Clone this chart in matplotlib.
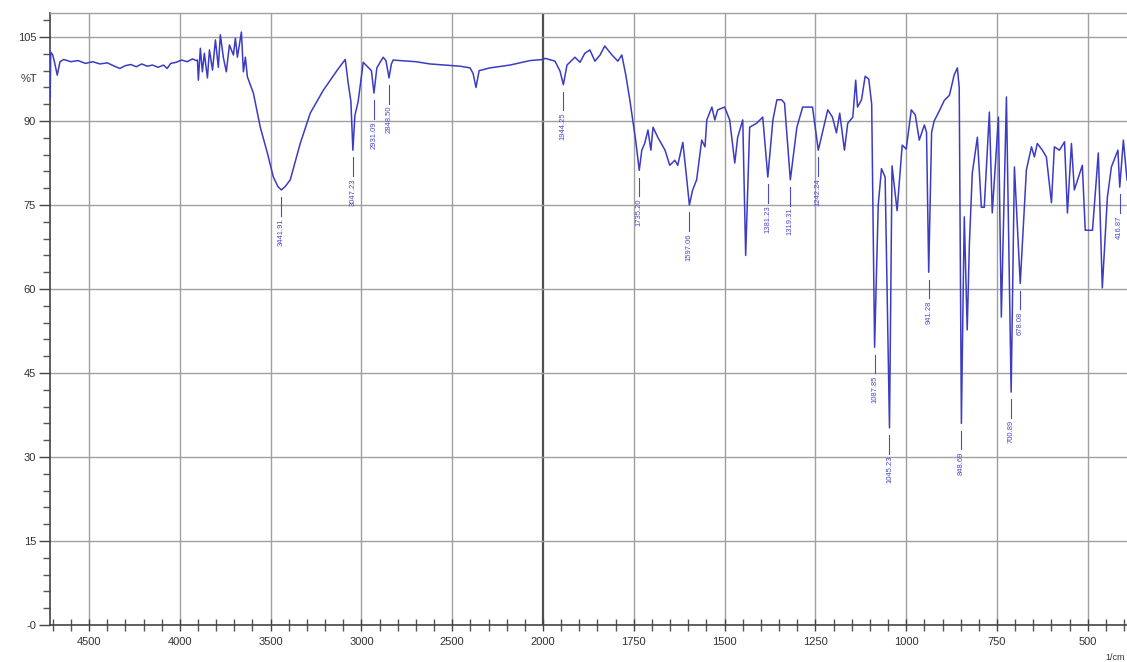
import numpy as np
import matplotlib
matplotlib.use("Agg")
import matplotlib.pyplot as plt
from matplotlib.ticker import FixedLocator

plt.rcParams['font.family'] = ['Liberation Sans', 'DejaVu Sans']

# ---- data (wavenumber in 1/cm, transmittance in %T) ----
wavenumber = [
    4714, 4711, 4700, 4690, 4675, 4660, 4640, 4600, 4560, 4520, 4480, 4440, 4400,
    4360, 4330, 4300, 4270, 4240, 4210, 4180, 4150, 4120, 4090, 4070, 4050, 4020,
    3990, 3960, 3930, 3910,
    3903, 3898, 3887, 3876, 3865, 3848, 3837, 3820, 3804, 3788, 3777, 3760, 3744,
    3727, 3705, 3694, 3683, 3661, 3650, 3639, 3628,
    3595, 3557, 3518, 3485, 3460, 3441, 3420, 3392, 3337, 3282, 3210, 3133, 3089,
    3073, 3058, 3047, 3036, 3018, 2990, 2963, 2945, 2931, 2915, 2897, 2880, 2865,
    2848, 2835, 2825, 2787, 2700, 2622, 2540, 2457, 2402, 2385, 2369, 2352, 2292,
    2182, 2072, 2000,
    1994, 1967, 1953, 1944, 1934, 1912, 1898, 1885, 1871, 1857, 1843, 1830, 1810,
    1794, 1783, 1772, 1761, 1745, 1735, 1728, 1720, 1711, 1703, 1697, 1684, 1664,
    1651, 1637, 1629, 1615, 1604, 1597, 1588, 1577, 1563, 1554, 1549, 1535, 1527,
    1519, 1500, 1486, 1472, 1464, 1450, 1442, 1431, 1412, 1395, 1381, 1367, 1356,
    1343, 1335, 1319, 1301, 1285, 1258, 1242, 1216, 1203, 1192, 1183, 1170, 1161,
    1147, 1139, 1134, 1123, 1113, 1103, 1095, 1087, 1077, 1068, 1058, 1046, 1039,
    1025, 1011, 1000, 986, 975, 964, 950, 944, 938, 930, 923, 909, 895, 881, 868,
    859, 854, 848, 843, 840, 832, 826, 818, 804, 793, 785, 771, 763, 746, 738, 724,
    711, 702, 686, 669, 655, 647, 639, 625, 614, 600, 592, 578, 564, 556, 545, 537,
    515, 507, 487, 471, 460, 446, 435, 417, 412, 402, 392,
]
transmittance = [
    94.0, 102.3, 101.8, 100.5, 98.2, 100.6, 101.0, 100.6, 100.8, 100.3, 100.6, 100.2, 100.4,
    99.8, 99.4, 99.9, 100.1, 99.7, 100.2, 99.8, 100.0, 99.6, 100.0, 99.4, 100.3, 100.5,
    100.9, 100.6, 101.1, 100.8,
    100.9, 97.3, 103.0, 98.8, 102.1, 97.7, 102.7, 99.1, 104.5, 99.6, 105.4, 101.3, 98.8,
    103.6, 101.8, 104.8, 101.4, 105.9, 98.8, 101.4, 97.9,
    95.0, 88.9, 84.3, 80.0, 78.3, 77.7, 78.3, 79.5, 86.0, 91.4, 95.5, 99.1, 101.0,
    96.8, 93.5, 84.8, 91.0, 93.5, 100.5, 99.6, 99.0, 95.0, 99.5, 100.5, 101.4, 100.8,
    97.7, 100.2, 100.9, 100.8, 100.6, 100.2, 100.0, 99.8, 99.5, 98.5, 96.0, 99.0, 99.5,
    100.0, 100.8, 101.0,
    101.2, 100.7, 98.9, 96.5, 100.0, 101.4, 100.5, 102.1, 102.7, 100.7, 101.8, 103.4, 101.8,
    100.7, 101.8, 98.2, 93.8, 86.6, 81.2, 84.8, 86.0, 88.4, 84.8, 88.9, 87.1, 84.8,
    82.1, 83.0, 82.1, 86.2, 79.5, 75.0, 77.7, 79.5, 86.6, 85.4, 90.2, 92.5, 90.2,
    92.0, 92.5, 90.2, 82.5, 87.1, 90.2, 66.0, 88.9, 89.6, 90.7, 80.0, 90.2, 93.8,
    93.8, 93.2, 79.5, 88.9, 92.5, 92.5, 84.8, 92.0, 90.7, 87.9, 91.4, 84.8, 89.6,
    90.7, 97.3, 92.5, 93.8, 98.0, 97.5, 93.0, 49.6, 75.0, 81.5, 80.0, 35.2, 82.0,
    74.0, 85.7, 85.0, 92.0, 91.1, 86.6, 89.3, 88.0, 63.0, 88.0, 90.0, 91.8, 93.7, 94.6, 98.2,
    99.5, 96.0, 36.0, 60.0, 72.9, 52.7, 68.0, 80.7, 87.1, 74.6, 74.6, 91.6, 73.6, 90.7, 55.0, 94.3,
    41.6, 81.8, 61.0, 81.3, 85.4, 83.6, 86.0, 84.8, 83.6, 75.4, 85.4, 84.8, 86.3, 73.6, 86.0, 77.7,
    82.1, 70.5, 70.5, 84.3, 60.2, 76.4, 81.8, 84.8, 78.2, 86.6, 79.5,
]

peak_wn = [3441, 3047, 2931, 2848, 1944, 1735, 1597, 1381, 1319, 1242,
           1087, 1046, 938, 848, 711, 686, 412]
peak_t = [77.7, 84.8, 95.0, 97.7, 96.5, 81.2, 75.0, 80.0, 79.5, 84.8,
          49.6, 35.2, 63.0, 36.0, 41.6, 61.0, 78.2]
peak_labels = ["3441.91", "3047.23", "2931.09", "2848.50", "1944.25", "1735.20",
               "1597.06", "1381.23", "1319.31", "1242.24", "1087.85", "1045.23",
               "941.28", "848.69", "700.89", "678.08", "416.87"]

x_major = [4500, 4000, 3500, 3000, 2500, 2000, 1750, 1500, 1250, 1000, 750, 500]
y_major = [0, 15, 30, 45, 60, 75, 90, 105]
y_labels = ["-0", "15", "30", "45", "60", "75", "90", "105"]

# ---- figure ----
W, H = 1127, 662
fig = plt.figure(figsize=(W / 100, H / 100), dpi=100)
ax = fig.add_axes([50 / W, 37 / H, (W - 50) / W, (625 - 13) / H])


def fwd(x):
    x = np.asarray(x, dtype=float)
    return np.where(x > 2000, 2000 + (x - 2000) / 2.0, x)


def inv(u):
    u = np.asarray(u, dtype=float)
    return np.where(u > 2000, 2000 + (u - 2000) * 2.0, u)


ax.set_xscale('function', functions=(fwd, inv))
ax.set_xlim(4715, 392)
ax.set_ylim(0, 109.3)

grid_c = '#a0a0a0'
for xv in x_major:
    if xv == 2000:
        ax.axvline(xv, color='#505050', lw=1.6, zorder=1)
    else:
        ax.axvline(xv, color=grid_c, lw=1.0, zorder=1)
for yv in y_major[1:]:
    ax.axhline(yv, color=grid_c, lw=1.0, zorder=1)

line_c = '#3b3bc4'
ax.plot(wavenumber, transmittance, color=line_c, lw=1.1, zorder=3)

for wn, t, lab in zip(peak_wn, peak_t, peak_labels):
    ax.plot([wn, wn], [t - 1.3, t - 4.6], color='#4a4ad0', lw=0.8, zorder=3)
    ax.text(wn, t - 5.0, lab, rotation=90, ha='center', va='top',
            fontsize=5.5, color='#4a4ad0', zorder=4)

# ticks
ax.xaxis.set_major_locator(FixedLocator(x_major))
ax.set_xticklabels([str(v) for v in x_major])
x_minor = [v for v in range(4700, 2000, -100) if v % 500] + \
          [v for v in range(1950, 390, -50) if v % 250]
ax.xaxis.set_minor_locator(FixedLocator(x_minor))
ax.yaxis.set_major_locator(FixedLocator(y_major))
ax.set_yticklabels(y_labels)
ax.yaxis.set_minor_locator(FixedLocator([v for v in range(3, 109, 3) if v % 15]))

ax.tick_params(axis='x', which='major', direction='inout', length=9, width=1.0,
               color='#444444', labelsize=8, labelcolor='#333333', pad=4)
ax.tick_params(axis='x', which='minor', direction='inout', length=8, width=1.0,
               color='#555555')
ax.tick_params(axis='y', which='major', direction='out', length=8, width=1.0,
               color='#444444', labelsize=8, labelcolor='#333333', pad=2)
ax.tick_params(axis='y', which='minor', direction='out', length=5, width=1.0,
               color='#555555')

for s in ['left', 'bottom']:
    ax.spines[s].set_color('#444444')
    ax.spines[s].set_linewidth(1.2)
ax.spines['top'].set_color(grid_c)
ax.spines['top'].set_linewidth(1.0)
ax.spines['right'].set_visible(False)

ax.text(-0.012, 97.5, '%T', transform=ax.get_yaxis_transform(),
        ha='right', va='center', fontsize=8, color='#333333')
fig.text(1115 / W, 1 - 657 / H, '1/cm', ha='center', va='center',
         fontsize=6.5, color='#333333')

fig.savefig('out.png', dpi=100)
